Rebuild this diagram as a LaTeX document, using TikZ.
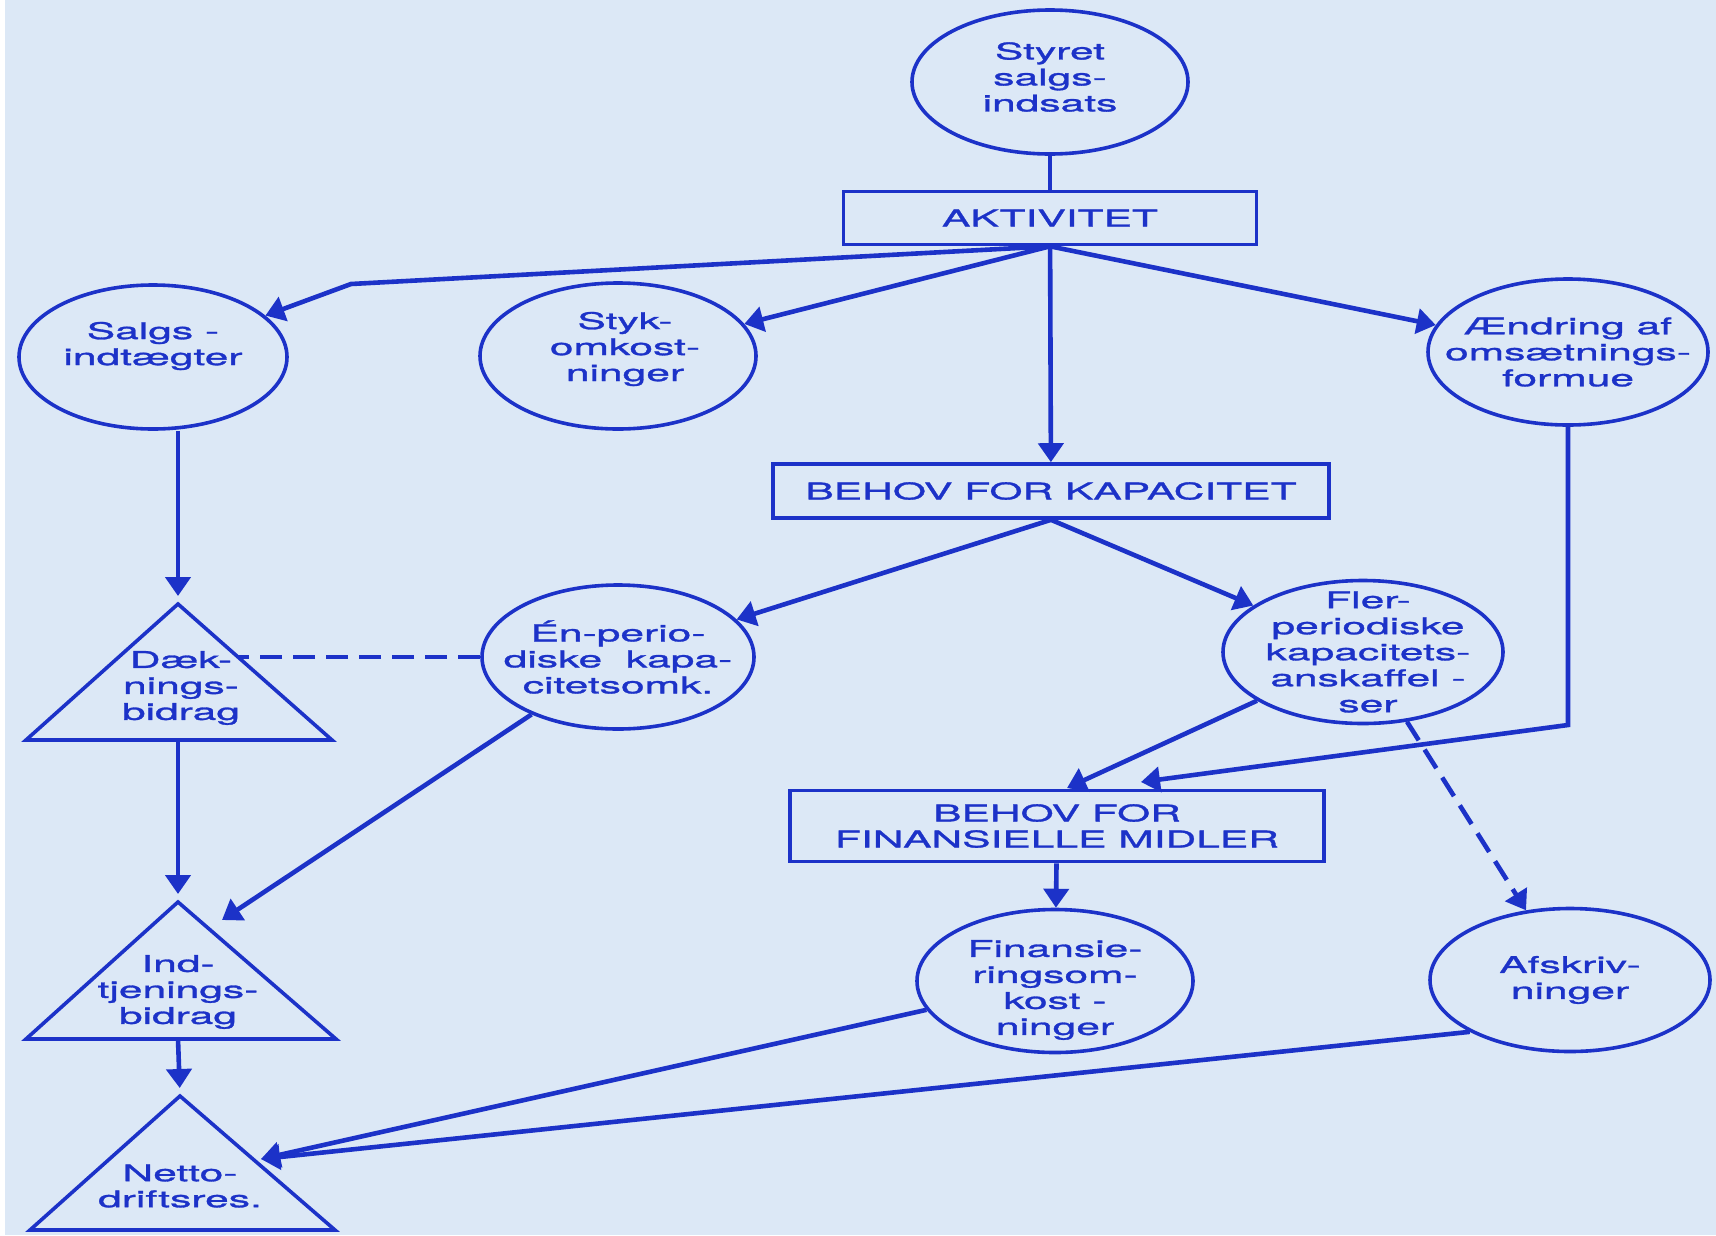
\documentclass[tikz,border=0pt]{standalone}
\usepackage{fontspec}
\newfontfamily\hv[FakeStretch=1.85,FakeBold=1.3]{TeX Gyre Heros}
\usetikzlibrary{arrows.meta,shapes.geometric,calc}
\definecolor{ink}{RGB}{28,50,200}
\definecolor{paper}{RGB}{220,232,246}
\begin{document}
\begin{tikzpicture}[x=1pt,y=-1pt,
  ln/.style={draw=ink, line width=3.6pt},
  ell/.style={ellipse, ln, inner sep=0pt},
  box/.style={rectangle, ln, inner sep=0pt},
  txt/.style={text=ink, font=\hv\fontsize{23}{26}\selectfont, align=center, inner sep=0pt},
  con/.style={draw=ink, line width=4.6pt},
  arr/.style={con, -{Triangle[length=19pt,width=25pt]}},
  dsh/.style={dash pattern=on 22pt off 11pt}]
\fill[paper] (0,0) rectangle (1716,1235);
\fill[white] (0,0) rectangle (5,1235);
\useasboundingbox (0,0) rectangle (1716,1235);

% ellipses
\node[ell, minimum width=276pt, minimum height=144pt,
  label={[txt, yshift=5pt]center:{Styret\\salgs-\\indsats}}] (styret) at (1050,82) {};
\node[ell, minimum width=268pt, minimum height=144pt,
  label={[txt, yshift=11pt]center:{Salgs -\\indtægter}}] (salgs) at (153,357) {};
\node[ell, minimum width=276pt, minimum height=146pt,
  label={[txt, yshift=7pt, xshift=7pt]center:{Styk-\\omkost-\\ninger}}] (styk) at (618,356) {};
\node[ell, minimum width=280pt, minimum height=146pt,
  label={[txt]center:{Ændring af\\omsætnings-\\formue}}] (aend) at (1568,352) {};
\node[ell, minimum width=272pt, minimum height=144pt,
  label={[txt]center:{Én-perio-\\diske\ \ kapa-\\citetsomk.}}] (en) at (618,657) {};
\node[ell, minimum width=280pt, minimum height=143pt,
  label={[txt, xshift=5pt]center:{Fler-\\periodiske\\kapacitets-\\anskaffel -\\ser}}] (fler) at (1363,652) {};
\node[ell, minimum width=276pt, minimum height=143pt,
  label={[txt, yshift=-9pt]center:{Finansie-\\ringsom-\\kost -\\ninger}}] (finans) at (1055,981) {};
\node[ell, minimum width=280pt, minimum height=143pt,
  label={[txt]center:{Afskriv-\\ninger}}] (afskr) at (1570,980) {};

% boxes
\node[box, txt, minimum width=413pt, minimum height=53pt] (akt) at (1050,218) {AKTIVITET};
\node[box, txt, minimum width=556pt, minimum height=54pt] (kap) at (1051,491) {BEHOV FOR KAPACITET};
\node[box, txt, minimum width=534pt, minimum height=71pt] (fin) at (1057,826) {BEHOV FOR\\FINANSIELLE MIDLER};

% triangles
\coordinate (dekA) at (178,604); \coordinate (dekB) at (178,740);
\draw[ln, line join=miter] (dekA) -- (26,740) -- (332,740) -- cycle;
\node[txt] (dek) at (181,688) {Dæk-\\nings-\\bidrag};
\coordinate (indA) at (178,902); \coordinate (indB) at (178,1039);
\draw[ln] (indA) -- (26,1039) -- (336,1039) -- cycle;
\node[txt] (ind) at (178,992) {Ind-\\tjenings-\\bidrag};
\coordinate (netA) at (180,1096);
\draw[ln] (netA) -- (30,1230) -- (335,1230) -- cycle;
\node[txt] (netto) at (180,1186) {Netto-\\driftsres.};

% connector points
\coordinate (bend) at (351,284);
\coordinate (dekR) at (238,657);
\coordinate (indT) at (222,920);
\coordinate (finT1) at (1067,788);
\coordinate (corner) at (1572,725);
\coordinate (finT2) at (1141,782);
\coordinate (netT) at (261,1159);

% connectors
\draw[con] (styret) -- (akt);
\draw[arr] (akt.south) -- (bend) -- (salgs);
\draw[arr] (akt.south) -- (styk);
\draw[arr] (akt.south) -- (aend);
\draw[arr] (akt) -- (kap);
\draw[arr] (kap.south) -- (en);
\draw[arr] (kap.south) -- (fler);
\draw[arr, shorten >=8pt] (dekA |- salgs.south) -- (dekA);
\draw[arr, shorten >=8pt] (dekB) -- (indA);
\draw[arr, shorten >=8pt] (indB) -- (netA);
\draw[con, dsh] (en.west) -- (dekR);
\draw[arr] (en) -- (indT);
\draw[arr] (fler) -- (finT1);
\draw[arr] (aend.south) -- (aend.south |- corner) -- (finT2);
\draw[arr] (fin) -- (finans);
\draw[arr, dsh] (fler) -- (afskr);
\draw[arr] (finans) -- (netT);
\draw[arr] (afskr.south west) -- (netT);
\end{tikzpicture}
\end{document}
